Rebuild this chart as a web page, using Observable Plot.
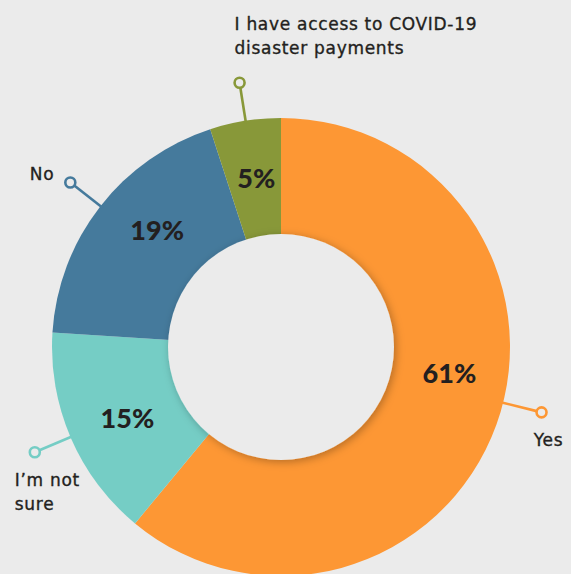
<!DOCTYPE html>
<html><head><meta charset="utf-8">
<script src="https://cdn.jsdelivr.net/npm/d3@7"></script>
<script src="https://cdn.jsdelivr.net/npm/@observablehq/plot@0.6"></script>
<style>
html,body{margin:0;padding:0;background:#ebebeb;overflow:hidden;}
#chart svg{display:block;}
#chart g[font-family*="DejaVu"] text{letter-spacing:0.7px;}
</style></head><body><div id="chart"></div>
<script>
// ---- data ----
const categories = ["Yes", "I’m not sure", "No", "I have access to COVID-19 disaster payments"];
const shares = [61, 15, 19, 5];
const shareLabels = ["61%", "15%", "19%", "5%"];
const categoryLabels = ["Yes", "I’m not\nsure", "No", "I have access to COVID-19\ndisaster payments"];
const palette = ["#fd9734", "#75cdc5", "#457a9c", "#889839"];

// ---- layout ----
const W = 571, H = 574, CX = 281, CY = 347;
const R_OUT = 229, R_IN = 113, R_MARK = 268, R_LABEL = 170;
const leaderDeg = [104, 247, 308, 351];
const labelDeg = [99, 245, 313, 351.5];
const labelOffsets = [
  {dx: 7, dy: 26, textAnchor: "middle"},
  {dx: -20, dy: 38, textAnchor: "start"},
  {dx: -16, dy: -10, textAnchor: "end"},
  {dx: -5, dy: -48, textAnchor: "start"}
];
const BG = "#ebebeb", INK = "#231f20";

const rad = d => d * Math.PI / 180;
const rows = categories.map((c, i) => ({
  category: c, value: shares[i], pct: shareLabels[i], label: categoryLabels[i],
  lx: R_LABEL * Math.sin(rad(labelDeg[i])), ly: R_LABEL * Math.cos(rad(labelDeg[i])),
  mx: R_MARK * Math.sin(rad(leaderDeg[i])), my: R_MARK * Math.cos(rad(leaderDeg[i])),
  ex: (R_OUT - 2) * Math.sin(rad(leaderDeg[i])), ey: (R_OUT - 2) * Math.cos(rad(leaderDeg[i])),
  sx: (R_MARK - 5) * Math.sin(rad(leaderDeg[i])), sy: (R_MARK - 5) * Math.cos(rad(leaderDeg[i]))
}));
const arcs = d3.pie().sort(null).value(d => d.value).startAngle(0).endAngle(2 * Math.PI)(rows);

function donut(index, scales) {
  const x = scales.x, y = scales.y;
  const cx = x(0), cy = y(0), k = x(1) - x(0);
  const col = scales.color || (c => palette[categories.indexOf(c)]);
  const g = d3.create("svg:g").attr("transform", `translate(${cx},${cy})`);
  const defs = g.append("defs");
  const f = defs.append("filter").attr("id", "holeShadow").attr("x", "-20%").attr("y", "-20%").attr("width", "140%").attr("height", "140%");
  f.append("feDropShadow").attr("dx", 2).attr("dy", 2).attr("stdDeviation", 4).attr("flood-color", "#000").attr("flood-opacity", 0.28);
  const arc = d3.arc().innerRadius(0).outerRadius(R_OUT * k);
  g.selectAll("path").data(arcs).join("path").attr("d", arc).attr("fill", d => col(d.data.category));
  g.append("circle").attr("r", R_IN * k).attr("fill", BG).attr("filter", "url(#holeShadow)");
  return g.node();
}

const catFont = "'DejaVu Sans', Lato, sans-serif";
const chart = Plot.plot({
  width: W, height: H, margin: 0,
  x: {domain: [-CX, W - CX], axis: null},
  y: {domain: [-(H - CY), CY], axis: null},
  color: {domain: categories, range: palette},
  style: {background: BG, fontFamily: "Lato, sans-serif", overflow: "visible"},
  marks: [
    donut,
    Plot.link(rows, {x1: "ex", y1: "ey", x2: "sx", y2: "sy", stroke: "category", strokeWidth: 2.6}),
    Plot.dot(rows, {x: "mx", y: "my", r: 5, stroke: "category", strokeWidth: 2.6, fill: BG}),
    Plot.text(rows, {x: "lx", y: "ly", text: "pct", fontSize: 27, fontWeight: 900, fill: INK, fontFamily: "Lato, sans-serif"}),
    ...rows.map((d, i) => Plot.text([d], {
      x: "mx", y: "my", text: "label", fill: INK, stroke: INK, strokeWidth: 0.35,
      fontSize: 17, fontWeight: 400, fontFamily: catFont,
      lineHeight: 1.41, textAnchor: labelOffsets[i].textAnchor,
      dx: labelOffsets[i].dx, dy: labelOffsets[i].dy
    }))
  ]
});
document.getElementById("chart").append(chart);
</script>
</body></html>
